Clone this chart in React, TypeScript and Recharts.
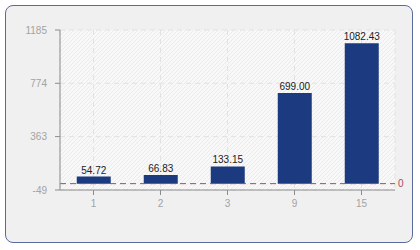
import React from "react";
import {
  BarChart,
  Bar,
  XAxis,
  YAxis,
  CartesianGrid,
  ReferenceLine,
  LabelList,
} from "recharts";

const categories = ["1", "2", "3", "9", "15"];
const amounts = [54.72, 66.83, 133.15, 699.0, 1082.43];
const yTicks = [-49, 363, 774, 1185];

const data = categories.map((name, i) => ({ name, value: amounts[i] }));

const FONT = "'Liberation Sans', Arial, sans-serif";

const App: React.FC = () => {
  return (
    <div
      style={{
        position: "absolute",
        left: 0,
        top: 0,
        width: 420,
        height: 250,
        background: "#ffffff",
      }}
    >
      <div
        style={{
          position: "absolute",
          left: 5,
          top: 5,
          width: 406,
          height: 236,
          background: "#f0f0f0",
          border: "1px solid #5b6a9c",
          borderRadius: 8,
        }}
      />
      <div style={{ position: "absolute", left: 0, top: 0 }}>
        <BarChart
          width={420}
          height={250}
          data={data}
          margin={{ top: 30, right: 25, bottom: 30, left: 0 }}
          barCategoryGap="25%"
        >
          <defs>
            <pattern
              id="hatch"
              width="4"
              height="4"
              patternUnits="userSpaceOnUse"
            >
              <rect width="4" height="4" fill="#f8f8f8" />
              <path d="M0,4 L4,0" stroke="#ebebeb" strokeWidth="1" />
            </pattern>
          </defs>
          <CartesianGrid
            fill="url(#hatch)"
            stroke="#e2e2e2"
            strokeDasharray="5 4"
          />
          <XAxis
            dataKey="name"
            stroke="#8c8c8c"
            tickSize={5}
            tickMargin={5}
            height={30}
            tick={{ fill: "#a3a3a3", fontSize: 10, fontFamily: FONT }}
          />
          <YAxis
            width={60}
            domain={[-49, 1185]}
            ticks={yTicks}
            interval={0}
            allowDataOverflow
            stroke="#8c8c8c"
            tickSize={5}
            tickMargin={8}
            tick={{ fill: "#a3a3a3", fontSize: 10, fontFamily: FONT }}
          />
          <ReferenceLine
            y={0}
            stroke="#a84a5a"
            strokeDasharray="6 4"
            label={{
              value: "0",
              position: "right",
              offset: 3,
              fill: "#a84a5a",
              fontSize: 10,
              fontFamily: FONT,
            }}
          />
          <Bar dataKey="value" fill="#1b3a7f" isAnimationActive={false}>
            <LabelList
              dataKey="value"
              position="top"
              offset={3}
              formatter={(v: number) => v.toFixed(2)}
              style={{ fill: "#222222", fontSize: 10, fontFamily: FONT }}
            />
          </Bar>
        </BarChart>
      </div>
    </div>
  );
};

export default App;
